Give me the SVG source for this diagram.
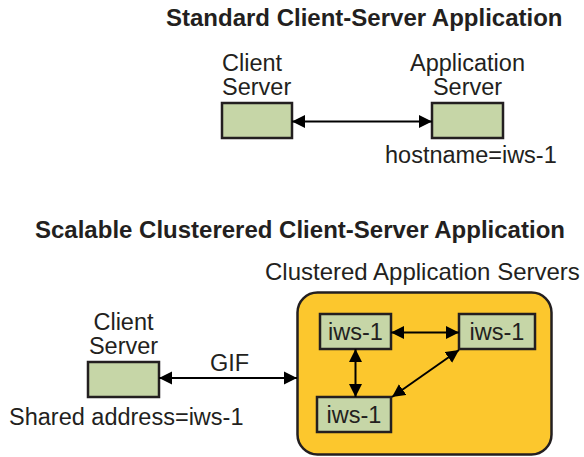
<svg xmlns="http://www.w3.org/2000/svg" width="584" height="457" viewBox="0 0 584 457">
<style>
text{font-family:"Liberation Sans",Arial,Helvetica,sans-serif;fill:#231f20;font-size:23.5px}
.title{font-weight:bold;font-size:24px}
.mid{text-anchor:middle}
.box{fill:#c6d6a7;stroke:#231f20;stroke-width:2.5}
.cluster{fill:#fcc72d;stroke:#231f20;stroke-width:2.5}
.conn line{stroke:#000;stroke-width:2;marker-start:url(#ah);marker-end:url(#ah)}
</style>
<defs>
<marker id="ah" markerUnits="userSpaceOnUse" markerWidth="14" markerHeight="14" refX="13" refY="7" orient="auto-start-reverse">
<path d="M0,0.5 L13,7 L0,13.5 z" fill="#000"/>
</marker>
</defs>
<rect width="584" height="457" fill="#fff"/>
<text class="title" x="166" y="26">Standard Client-Server Application</text>
<g id="client1">
<text x="222" y="71">Client</text>
<text x="222" y="95">Server</text>
<rect class="box" x="222" y="103" width="70" height="35"/>
</g>
<g id="appserver1">
<text class="mid" x="467.5" y="71">Application</text>
<text class="mid" x="467.5" y="95">Server</text>
<rect class="box" x="432" y="103" width="71" height="35"/>
<text x="385" y="163">hostname=iws-1</text>
</g>
<text class="title" x="35" y="238">Scalable Clusterered Client-Server Application</text>
<g id="cluster">
<text x="265" y="280" style="font-size:24px">Clustered Application Servers</text>
<rect class="cluster" x="297.5" y="292.5" width="254" height="162" rx="20"/>
</g>
<g id="client2">
<text class="mid" x="123.5" y="330">Client</text>
<text class="mid" x="123.5" y="354">Server</text>
<rect class="box" x="88" y="362" width="71" height="35"/>
<text x="9" y="425">Shared address=iws-1</text>
</g>
<g id="iwsA">
<rect class="box" x="320" y="314" width="71" height="35"/>
<text class="mid" x="355.5" y="340">iws-1</text>
</g>
<g id="iwsB">
<rect class="box" x="459" y="314" width="76" height="35"/>
<text class="mid" x="497" y="340">iws-1</text>
</g>
<g id="iwsC">
<rect class="box" x="317" y="397" width="74" height="35"/>
<text class="mid" x="354" y="423">iws-1</text>
</g>
<g id="connectors" class="conn">
<line x1="292" y1="121.5" x2="432" y2="121.5"/>
<line x1="159" y1="378" x2="297" y2="378"/>
<line x1="391" y1="332.5" x2="459" y2="332.5"/>
<line x1="355.5" y1="349" x2="355.5" y2="397"/>
<line x1="392" y1="397" x2="459" y2="350"/>
</g>
<text class="mid" x="229.5" y="371">GIF</text>
</svg>
